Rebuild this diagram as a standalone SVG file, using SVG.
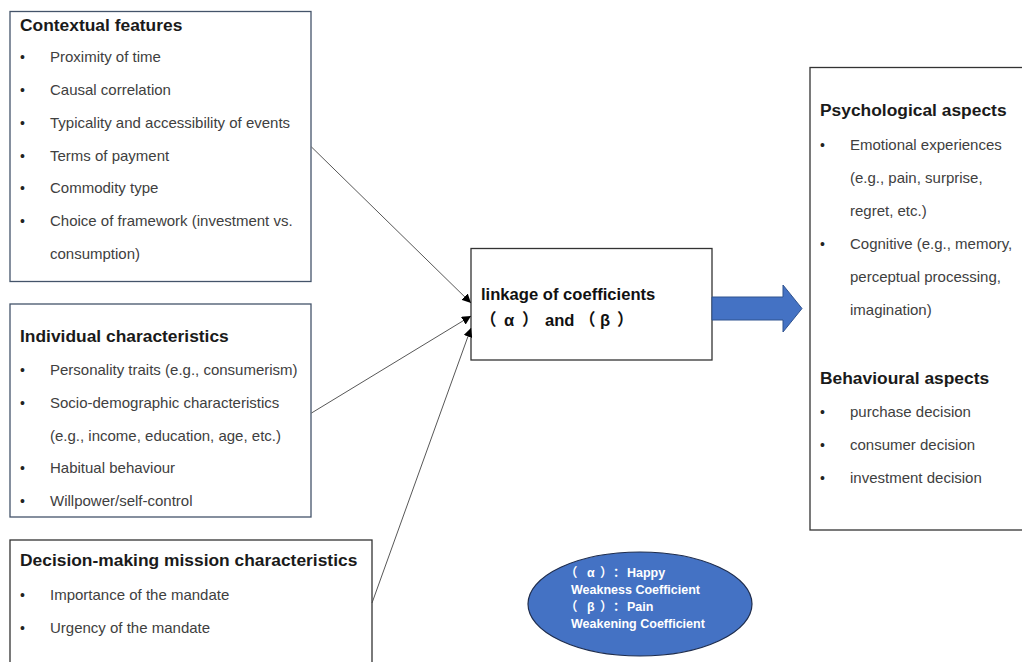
<svg xmlns="http://www.w3.org/2000/svg" width="1022" height="662" viewBox="0 0 1022 662">
<style>
.box{fill:#fff;stroke:#44546a;stroke-width:1.3}
.boxk{fill:#fff;stroke:#333;stroke-width:1.3}
.t{font-family:"Liberation Sans",Arial,sans-serif;font-size:17.4px;font-weight:bold;fill:#1a1a1a}
.i{font-family:"Liberation Sans",Arial,sans-serif;font-size:15px;fill:#404040}
.b{font-family:"Liberation Sans",Arial,sans-serif;font-size:14px;fill:#222}
.c{font-family:"Liberation Sans","Noto Sans CJK SC",sans-serif;font-size:16.6px;font-weight:bold;fill:#111}
.e{font-family:"Liberation Sans","Noto Sans CJK SC",sans-serif;font-size:12.5px;font-weight:bold;fill:#fff}
.con{stroke:#444;stroke-width:0.9;fill:none}
</style>
<defs>
<marker id="ah" viewBox="0 0 10 10" refX="10" refY="5" markerWidth="9" markerHeight="9" markerUnits="userSpaceOnUse" orient="auto">
<path d="M0,0 L10,5 L0,10 z" fill="#000"/>
</marker>
</defs>
<rect width="1022" height="662" fill="#fff"/>

<g id="contextual">
<rect class="box" x="10" y="11.5" width="301" height="270"/>
<text class="t" x="20" y="31">Contextual features</text>
<g class="b"><text x="20" y="62">•</text><text x="20" y="95">•</text><text x="20" y="128">•</text><text x="20" y="161">•</text><text x="20" y="193">•</text><text x="20" y="226">•</text></g>
<g class="i">
<text x="50" y="62">Proximity of time</text>
<text x="50" y="95">Causal correlation</text>
<text x="50" y="128">Typicality and accessibility of events</text>
<text x="50" y="161">Terms of payment</text>
<text x="50" y="193">Commodity type</text>
<text x="50" y="226">Choice of framework (investment vs.</text>
<text x="50" y="259">consumption)</text>
</g>
</g>

<g id="individual">
<rect class="box" x="10" y="304" width="301" height="213"/>
<text class="t" x="20" y="342">Individual characteristics</text>
<g class="b"><text x="20" y="375">•</text><text x="20" y="408">•</text><text x="20" y="473">•</text><text x="20" y="506">•</text></g>
<g class="i">
<text x="50" y="375">Personality traits (e.g., consumerism)</text>
<text x="50" y="408">Socio-demographic characteristics</text>
<text x="50" y="441">(e.g., income, education, age, etc.)</text>
<text x="50" y="473">Habitual behaviour</text>
<text x="50" y="506">Willpower/self-control</text>
</g>
</g>

<g id="decision">
<rect class="boxk" x="10" y="540" width="362" height="130"/>
<text class="t" x="20" y="566">Decision-making mission characteristics</text>
<g class="b"><text x="20" y="600">•</text><text x="20" y="633">•</text></g>
<g class="i">
<text x="50" y="600">Importance of the mandate</text>
<text x="50" y="633">Urgency of the mandate</text>
</g>
</g>

<g id="linkage">
<rect class="boxk" x="471" y="248.5" width="241" height="111.5"/>
<text class="c" x="481" y="300">linkage of coefficients</text>
<text class="c" y="326"><tspan x="480">（</tspan><tspan x="504">α</tspan><tspan x="522">）</tspan><tspan x="545">and</tspan><tspan x="579">（</tspan><tspan x="600">β</tspan><tspan x="617">）</tspan></text>
</g>

<g id="outcomes">
<rect class="boxk" x="810" y="67.5" width="220" height="462.5"/>
<text class="t" x="820" y="116">Psychological aspects</text>
<g class="b"><text x="820" y="150">•</text><text x="820" y="249">•</text><text x="820" y="417">•</text><text x="820" y="450">•</text><text x="820" y="483">•</text></g>
<g class="i">
<text x="850" y="150">Emotional experiences</text>
<text x="850" y="183">(e.g., pain, surprise,</text>
<text x="850" y="216">regret, etc.)</text>
<text x="850" y="249">Cognitive (e.g., memory,</text>
<text x="850" y="282">perceptual processing,</text>
<text x="850" y="315">imagination)</text>
</g>
<text class="t" x="820" y="384">Behavioural aspects</text>
<g class="i">
<text x="850" y="417">purchase decision</text>
<text x="850" y="450">consumer decision</text>
<text x="850" y="483">investment decision</text>
</g>
</g>

<g id="legend">
<ellipse cx="640" cy="604" rx="112" ry="52" fill="#4472c4" stroke="#1f2d4d" stroke-width="1.2"/>
<text class="e" y="577"><tspan x="565">（</tspan><tspan x="587">α</tspan><tspan x="600">）</tspan><tspan x="613">：</tspan><tspan x="627">Happy</tspan></text>
<text class="e" x="571" y="594">Weakness Coefficient</text>
<text class="e" y="611"><tspan x="565">（</tspan><tspan x="587">β</tspan><tspan x="600">）</tspan><tspan x="613">：</tspan><tspan x="627">Pain</tspan></text>
<text class="e" x="571" y="628">Weakening Coefficient</text>
</g>

<g id="connectors">
<line class="con" x1="311.5" y1="147" x2="471" y2="303" marker-end="url(#ah)"/>
<line class="con" x1="311.5" y1="413" x2="471" y2="316" marker-end="url(#ah)"/>
<line class="con" x1="372" y1="603" x2="471" y2="328" marker-end="url(#ah)"/>
<path d="M712,297 L783,297 L783,285 L802,308.5 L783,332 L783,320 L712,320 z" fill="#4472c4" stroke="#2f528f" stroke-width="1"/>
</g>
</svg>
